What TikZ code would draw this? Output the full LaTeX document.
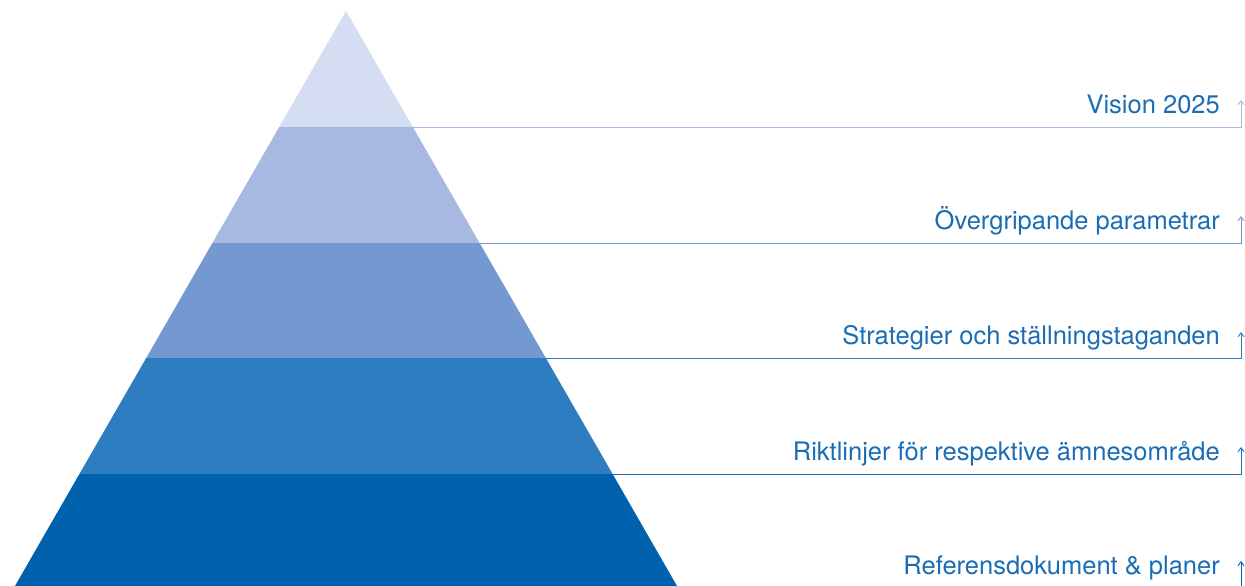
\documentclass[tikz,border=0pt]{standalone}
\usepackage{fontspec}
\setmainfont{TeX Gyre Heros}
\usetikzlibrary{arrows.meta}
\definecolor{bA}{HTML}{D4DDF1}
\definecolor{bB}{HTML}{A7B9E0}
\definecolor{bC}{HTML}{7399D0}
\definecolor{bD}{HTML}{2E7DC0}
\definecolor{bE}{HTML}{0062AE}
\definecolor{txt}{HTML}{1A6DB5}
\tikzset{
  lbl/.style={anchor=base east, inner sep=0pt, text=txt, font=\fontsize{25.5}{28}\selectfont},
  conn/.style={line width=0.9pt, -{Straight Barb[length=4pt,width=6pt]}},
}
\begin{document}
\begin{tikzpicture}[x=1pt,y=-1pt]
\useasboundingbox (0,0) rectangle (1245,586);
% pyramid bands: left x = 346-0.5757*(y-11)
\fill[bA] (346,11) -- (279.2,127) -- (412.8,127) -- cycle;
\fill[bB] (279.2,127) -- (212.4,243) -- (479.6,243) -- (412.8,127) -- cycle;
\fill[bC] (212.4,243) -- (146.2,358) -- (545.8,358) -- (479.6,243) -- cycle;
\fill[bD] (146.2,358) -- (79.4,474) -- (612.6,474) -- (545.8,358) -- cycle;
\fill[bE] (79.4,474) -- (14.5,586.8) -- (677.5,586.8) -- (612.6,474) -- cycle;
% edge points
\coordinate (e1) at (412.8,127);
\coordinate (e2) at (479.6,243);
\coordinate (e3) at (545.8,358);
\coordinate (e4) at (612.6,474);
\coordinate (c1) at (1241,127);
\coordinate (c2) at (1241,243);
\coordinate (c3) at (1241,358);
\coordinate (c4) at (1241,474);
\coordinate (c5) at (1241,586);
\coordinate (t1) at (1241,100);
\coordinate (t2) at (1241,216);
\coordinate (t3) at (1241,332);
\coordinate (t4) at (1241,447);
\coordinate (t5) at (1241,561);
% labels
\node[lbl] (l1) at (1220,113) {Vision 2025};
\node[lbl] (l2) at (1220,229) {Övergripande parametrar};
\node[lbl] (l3) at (1220,344) {Strategier och ställningstaganden};
\node[lbl] (l4) at (1220,460) {Riktlinjer för respektive ämnesområde};
\node[lbl] (l5) at (1220,574) {Referensdokument \& planer};
% connectors
\draw[conn, color=bB] (e1) -- (c1) -- (t1);
\draw[conn, color=bC] (e2) -- (c2) -- (t2);
\draw[conn, color=bD] (e3) -- (c3) -- (t3);
\draw[conn, color=bD!60!bE] (e4) -- (c4) -- (t4);
\draw[conn, color=bE] (c5) -- (t5);
\end{tikzpicture}
\end{document}
